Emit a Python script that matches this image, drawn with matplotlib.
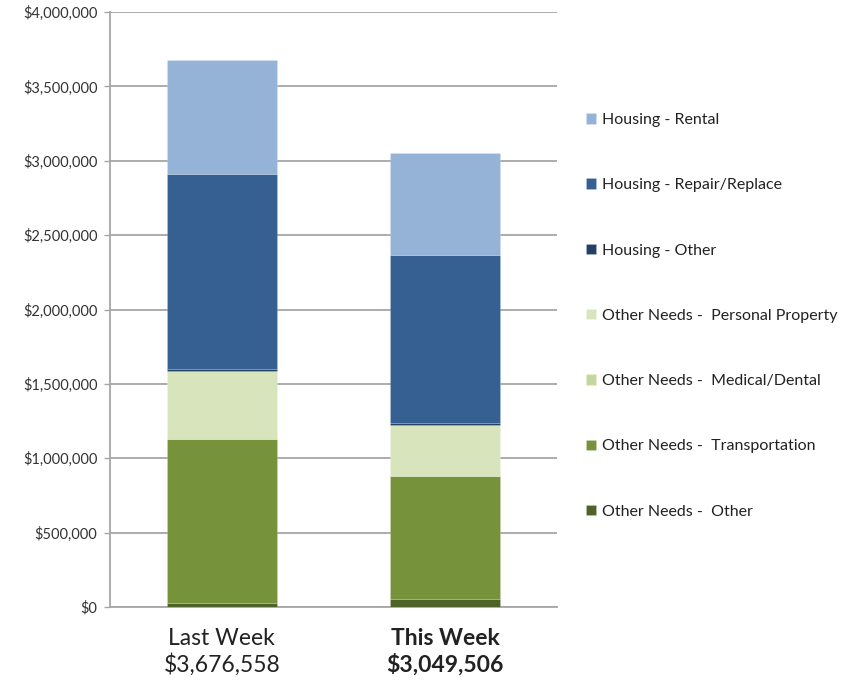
import matplotlib
matplotlib.use("Agg")
import matplotlib.pyplot as plt
import numpy as np
from matplotlib.ticker import FuncFormatter

weeks = ["Last Week\n$3,676,558", "This Week\n$3,049,506"]
series_names = [
    "Housing - Rental",
    "Housing - Repair/Replace",
    "Housing - Other",
    "Other Needs -  Personal Property",
    "Other Needs -  Medical/Dental",
    "Other Needs -  Transportation",
    "Other Needs -  Other",
]
other_other = [30000, 54000]
transportation = [1100000, 829000]
medical_dental = [0, 0]
personal_property = [456000, 343000]
housing_other = [17000, 12000]
repair_replace = [1306000, 1127000]
rental = [767558, 684506]

colors = {
    "Housing - Rental": "#95B3D7",
    "Housing - Repair/Replace": "#366092",
    "Housing - Other": "#244062",
    "Other Needs -  Personal Property": "#D8E4BC",
    "Other Needs -  Medical/Dental": "#C4D79B",
    "Other Needs -  Transportation": "#76933C",
    "Other Needs -  Other": "#4F6228",
}

plt.rcParams['font.family'] = ['Lato', 'DejaVu Sans']

fig = plt.figure(figsize=(8.65, 6.82), dpi=100)
ax = fig.add_axes([110/865, 1-607/682, 447/865, 595/682])

stack_order = [
    ("Other Needs -  Other", other_other),
    ("Other Needs -  Transportation", transportation),
    ("Other Needs -  Medical/Dental", medical_dental),
    ("Other Needs -  Personal Property", personal_property),
    ("Housing - Other", housing_other),
    ("Housing - Repair/Replace", repair_replace),
    ("Housing - Rental", rental),
]

x = np.arange(len(weeks))
bottom = np.zeros(len(weeks))
handles = {}
for name, vals in stack_order:
    vals = np.array(vals, dtype=float)
    b = ax.bar(x, vals, 0.494, bottom=bottom, color=colors[name],
               edgecolor=(1, 1, 1, 0.2), linewidth=0.5, zorder=3, label=name)
    handles[name] = b
    bottom += vals

ax.set_xlim(-0.5, 1.5)
ax.set_ylim(0, 4000000)
ax.set_yticks(np.arange(0, 4000001, 500000))
ax.yaxis.set_major_formatter(FuncFormatter(lambda v, p: "$" + format(int(v), ",")))
ax.grid(axis='y', color='#A6A6A6', linewidth=1.3, zorder=0)
for s in ["top", "right"]:
    ax.spines[s].set_visible(False)
ax.spines["left"].set_color('#A6A6A6')
ax.spines["left"].set_linewidth(1.3)
ax.spines["bottom"].set_color('#A6A6A6')
ax.spines["bottom"].set_linewidth(1.3)
ax.tick_params(axis='y', direction='out', length=4.5, width=1.0, color='#A6A6A6',
               labelsize=10.5, labelcolor='#333333', pad=4.5)
ax.tick_params(axis='x', length=0, labelsize=16.5, labelcolor='#222222', pad=15)
ax.set_xticks(x)
ax.set_xticklabels(weeks, linespacing=1.25)
ax.get_xticklabels()[1].set_fontweight('bold')

leg = ax.legend([handles[n] for n in series_names], series_names,
                loc='upper left', bbox_to_anchor=(586/865, 1-113/682),
                bbox_transform=fig.transFigure, frameon=False,
                fontsize=11.5, labelspacing=3.21, handlelength=0.63,
                handleheight=0.63, handletextpad=0.36, borderaxespad=0,
                borderpad=0)
for t in leg.get_texts():
    t.set_color('#222222')

fig.savefig("out.png", dpi=100)
